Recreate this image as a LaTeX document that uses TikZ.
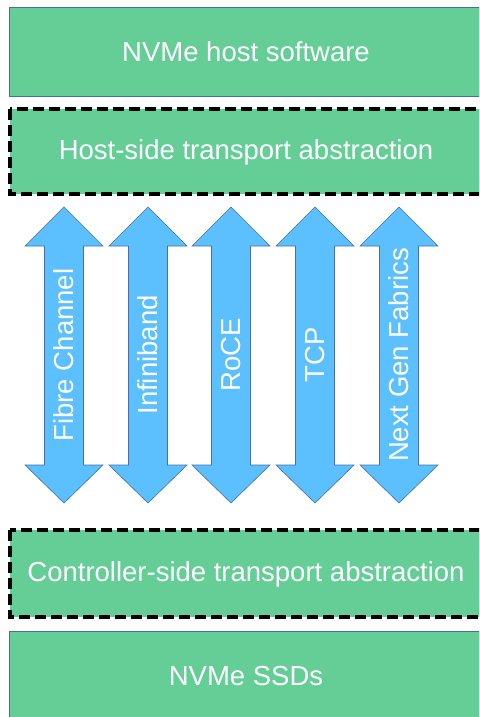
\documentclass[tikz,border=0pt]{standalone}
\usepackage{fontspec}
\setmainfont{Liberation Sans}
\definecolor{boxgreen}{RGB}{100,206,150}
\definecolor{arrowblue}{RGB}{92,192,255}
\definecolor{edgeblue}{RGB}{70,110,170}
\begin{document}
\begin{tikzpicture}[x=1pt,y=-1pt,
  solidbox/.style={draw=edgeblue,line width=0.8pt,fill=boxgreen},
  dashbox/.style={draw=black,line width=3.5pt,dash pattern=on 11pt off 5pt,fill=boxgreen},
  arrowshape/.style={draw=edgeblue,line width=0.6pt,fill=arrowblue},
  lbl/.style={text=white,font=\fontsize{27.5}{33}\selectfont,inner sep=0pt}]
\useasboundingbox (0,0) rectangle (479,717);
\begin{scope}
\clip (0,0) rectangle (479,717);
\path[solidbox] (9,7) rectangle (486,96);
\path[dashbox] (10,109) rectangle (486,194);
\path[dashbox] (10,530) rectangle (486,617);
\path[solidbox] (9,631) rectangle (486,730);
\foreach \cx in {64,148,231,315,399}{
  \path[arrowshape] (\cx,207) -- (\cx+39,246) -- (\cx+19.5,246) -- (\cx+19.5,465)
    -- (\cx+39,465) -- (\cx,503) -- (\cx-39,465) -- (\cx-19.5,465) -- (\cx-19.5,246)
    -- (\cx-39,246) -- cycle;
}
\end{scope}
\node[lbl] (host) at (246,52) {NVMe host software};
\node[lbl] (hst) at (246,152) {Host-side transport abstraction};
\node[lbl] (ctl) at (246,574) {Controller-side transport abstraction};
\node[lbl] (ssd) at (246,676) {NVMe SSDs};
\node[lbl,rotate=90] (fc) at (64,355) {Fibre Channel};
\node[lbl,rotate=90] (ib) at (148,355) {Infiniband};
\node[lbl,rotate=90] (roce) at (231,355) {RoCE};
\node[lbl,rotate=90] (tcp) at (315,355) {TCP};
\node[lbl,rotate=90] (ngf) at (399,355) {Next Gen Fabrics};
\end{tikzpicture}
\end{document}
